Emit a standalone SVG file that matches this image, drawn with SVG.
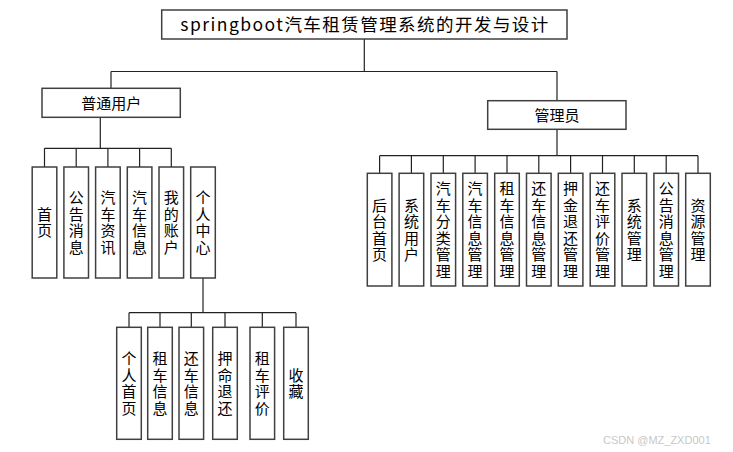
<svg xmlns="http://www.w3.org/2000/svg" width="733" height="452" viewBox="0 0 733 452">
<style>
.box{fill:#fff;stroke:#404040;stroke-width:1.5}
.ln{fill:none;stroke:#222;stroke-width:1.2}
text{font-family:"Noto Sans CJK SC","Microsoft YaHei",sans-serif;fill:#000}
.t{font-size:15px;text-anchor:middle}
.v{font-size:15px;text-anchor:middle;writing-mode:vertical-rl;text-orientation:upright;letter-spacing:1.5px}
.wm{font-family:"Liberation Sans",Arial,sans-serif;font-size:11px;fill:#c8c8c8}
</style>
<rect width="733" height="452" fill="#fff"/>
<g id="connectors">
<path class="ln" d="M364.3 39V71.5M111 71.5H557M111 71.5V88.3M557 71.5V100.7"/>
<path class="ln" d="M100.3 117.3V148.3M44.5 148.3H171.3M44.5 148.3V167M76.2 148.3V167M107.9 148.3V167M139.6 148.3V167M171.3 148.3V167"/>
<path class="ln" d="M557 129.3V155.7M379.6 155.7H698M379.6 155.7V173.3M411.4 155.7V173.3M443.3 155.7V173.3M475.1 155.7V173.3M507 155.7V173.3M538.8 155.7V173.3M570.6 155.7V173.3M602.5 155.7V173.3M634.3 155.7V173.3M666.2 155.7V173.3M698 155.7V173.3"/>
<path class="ln" d="M203 278V312.7M129 312.7H296M129 312.7V327.3M160 312.7V327.3M191.3 312.7V327.3M225 312.7V327.3M262.3 312.7V327.3M296 312.7V327.3"/>
</g>
<g id="root"><rect class="box" x="161.7" y="10" width="405.3" height="29"/><text x="364.3" y="31" font-size="17.5" text-anchor="middle" textLength="368" lengthAdjust="spacing">springboot汽车租赁管理系统的开发与设计</text></g>
<g id="user"><rect class="box" x="42" y="88.3" width="138.3" height="29"/><text class="t" x="111.2" y="108.5">普通用户</text></g>
<g id="admin"><rect class="box" x="487.7" y="100.7" width="138.3" height="28.6"/><text class="t" x="557" y="120.7">管理员</text></g>

<g id="u1"><rect class="box" x="32.2" y="167" width="24.6" height="111"/><text class="v" x="44.5" y="223.2">首页</text></g>
<g id="u2"><rect class="box" x="63.9" y="167" width="24.6" height="111"/><text class="v" x="76.2" y="223.2">公告消息</text></g>
<g id="u3"><rect class="box" x="95.6" y="167" width="24.6" height="111"/><text class="v" x="107.9" y="223.2">汽车资讯</text></g>
<g id="u4"><rect class="box" x="127.3" y="167" width="24.6" height="111"/><text class="v" x="139.6" y="223.2">汽车信息</text></g>
<g id="u5"><rect class="box" x="159" y="167" width="24.6" height="111"/><text class="v" x="171.3" y="223.2">我的账户</text></g>
<g id="u6"><rect class="box" x="190.7" y="167" width="24.6" height="111"/><text class="v" x="203" y="223.2">个人中心</text></g>

<g id="p1"><rect class="box" x="116.7" y="327.3" width="24.6" height="112"/><text class="v" x="129" y="384">个人首页</text></g>
<g id="p2"><rect class="box" x="147.7" y="327.3" width="24.6" height="112"/><text class="v" x="160" y="384">租车信息</text></g>
<g id="p3"><rect class="box" x="179" y="327.3" width="24.6" height="112"/><text class="v" x="191.3" y="384">还车信息</text></g>
<g id="p4"><rect class="box" x="212.7" y="327.3" width="24.6" height="112"/><text class="v" x="225" y="384">押命退还</text></g>
<g id="p5"><rect class="box" x="250" y="327.3" width="24.6" height="112"/><text class="v" x="262.3" y="384">租车评价</text></g>
<g id="p6"><rect class="box" x="283.7" y="327.3" width="24.6" height="112"/><text class="v" x="296" y="384">收藏</text></g>

<g id="a1"><rect class="box" x="367.3" y="173.3" width="24.6" height="112.7"/><text class="v" x="379.6" y="230.4">后台首页</text></g>
<g id="a2"><rect class="box" x="399.1" y="173.3" width="24.6" height="112.7"/><text class="v" x="411.4" y="230.4">系统用户</text></g>
<g id="a3"><rect class="box" x="431" y="173.3" width="24.6" height="112.7"/><text class="v" x="443.3" y="230.4">汽车分类管理</text></g>
<g id="a4"><rect class="box" x="462.8" y="173.3" width="24.6" height="112.7"/><text class="v" x="475.1" y="230.4">汽车信息管理</text></g>
<g id="a5"><rect class="box" x="494.7" y="173.3" width="24.6" height="112.7"/><text class="v" x="507" y="230.4">租车信息管理</text></g>
<g id="a6"><rect class="box" x="526.5" y="173.3" width="24.6" height="112.7"/><text class="v" x="538.8" y="230.4">还车信息管理</text></g>
<g id="a7"><rect class="box" x="558.3" y="173.3" width="24.6" height="112.7"/><text class="v" x="570.6" y="230.4">押金退还管理</text></g>
<g id="a8"><rect class="box" x="590.2" y="173.3" width="24.6" height="112.7"/><text class="v" x="602.5" y="230.4">还车评价管理</text></g>
<g id="a9"><rect class="box" x="622" y="173.3" width="24.6" height="112.7"/><text class="v" x="634.3" y="230.4">系统管理</text></g>
<g id="a10"><rect class="box" x="653.9" y="173.3" width="24.6" height="112.7"/><text class="v" x="666.2" y="230.4">公告消息管理</text></g>
<g id="a11"><rect class="box" x="685.7" y="173.3" width="24.6" height="112.7"/><text class="v" x="698" y="230.4">资源管理</text></g>

<text class="wm" x="603" y="444">CSDN @MZ_ZXD001</text>
</svg>
